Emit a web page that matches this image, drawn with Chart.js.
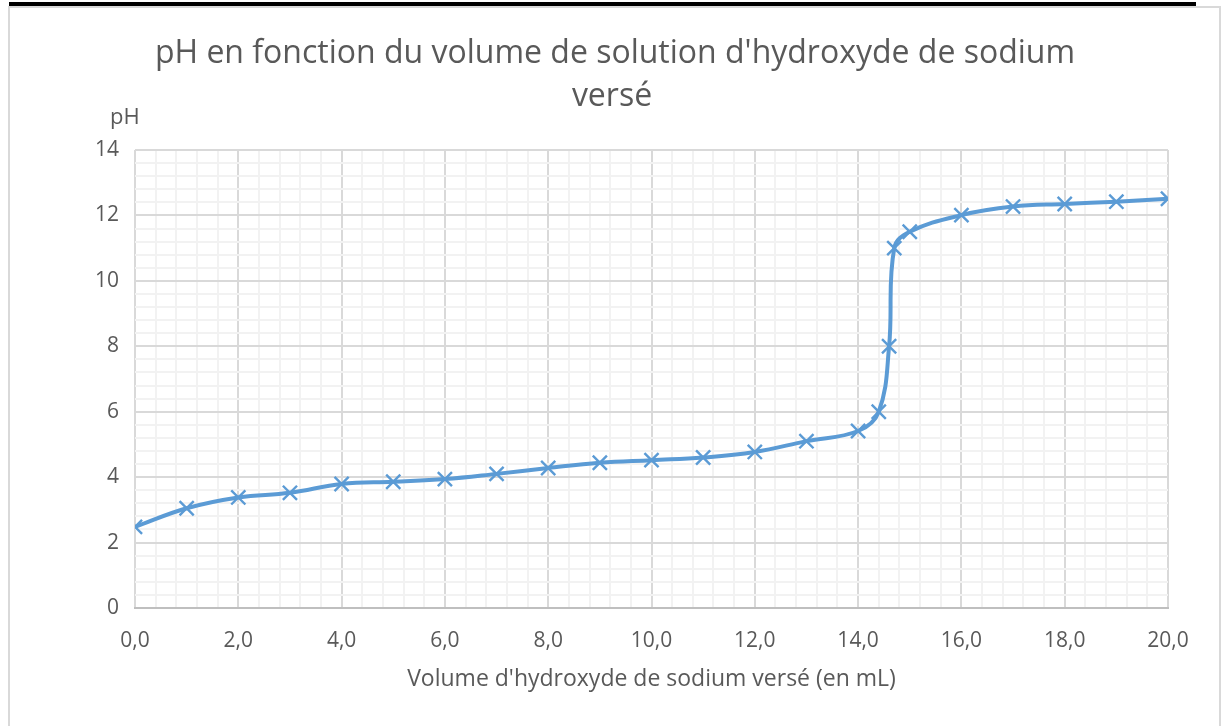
<!DOCTYPE html>
<html>
<head>
<meta charset="utf-8">
<script src="https://cdn.jsdelivr.net/npm/chart.js@4.4.1/dist/chart.umd.min.js"></script>
<style>
    body { margin: 0; background: #fff; width: 1230px; height: 726px; overflow: hidden; position: relative; }
    #bar { position: absolute; left: 9px; top: 2px; width: 1187px; height: 4px; background: #000; }
    #frame { position: absolute; left: 8px; top: 6px; width: 1209px; height: 740px; border: 2px solid #d9d9d9; border-bottom: none; }
    #wrap { position: absolute; left: 10px; top: 8px; width: 1185px; height: 718px; }
</style>
</head>
<body>
<div id="bar"></div>
<div id="frame"></div>
<div id="wrap"><canvas id="myChart" width="1185" height="718"></canvas></div>
<script>
const volumes = [0, 1, 2, 3, 4, 5, 6, 7, 8, 9, 10, 11, 12, 13, 14, 14.4, 14.6, 14.7, 15, 16, 17, 18, 19, 20];
const phValues = [2.48, 3.05, 3.38, 3.52, 3.79, 3.86, 3.94, 4.1, 4.28, 4.44, 4.52, 4.6, 4.77, 5.1, 5.41, 6.0, 8.0, 11.0, 11.5, 12.01, 12.27, 12.35, 12.42, 12.51];
const titleLines = ["pH en fonction du volume de solution d'hydroxyde de sodium", "versé"];
const xTitle = "Volume d'hydroxyde de sodium versé (en mL)";
const yTitle = "pH";

const font = "'Open Sans', sans-serif";
const textColor = '#595959';

function isMajor(v) {
    return Math.abs(v / 2 - Math.round(v / 2)) < 1e-6;
}

// title and the "pH" unit label sit at fixed spots above the plot
const labelsPlugin = {
    id: 'labels',
    afterDraw(chart) {
        const c = chart.ctx;
        c.save();
        c.fillStyle = textColor;
        c.textAlign = 'center';
        c.textBaseline = 'middle';
        c.font = "32px " + font;
        c.fillText(titleLines[0], 605, 46);
        c.fillText(titleLines[1], 602, 89);
        c.font = "22px " + font;
        c.textAlign = 'left';
        c.fillText(yTitle, 100, 110);
        c.restore();
    }
};

let chart = new Chart(document.getElementById('myChart'), {
    type: 'scatter',
    data: {
        datasets: [
            {
                data: volumes.map((v, i) => ({x: v, y: phValues[i]})),
                showLine: true,
                borderColor: '#5B9BD5',
                borderWidth: 4,
                tension: 0.4,
                pointStyle: 'crossRot',
                pointRadius: 10,
                pointBorderWidth: 2.4,
                pointBorderColor: '#5B9BD5',
                pointBackgroundColor: '#5B9BD5'
            }
        ]
    },
    options: {
        responsive: false,
        animation: false,
        layout: {
            padding: {top: 142, right: 27, left: 0, bottom: 29}
        },
        plugins: {
            legend: {display: false},
            tooltip: {enabled: false}
        },
        scales: {
            x: {
                type: 'linear',
                min: 0,
                max: 20,
                afterFit: (scale) => {
                    scale.height = 89;
                    scale.paddingLeft = 0;
                    scale.paddingRight = 0;
                },
                ticks: {
                    stepSize: 0.4,
                    autoSkip: false,
                    maxRotation: 0,
                    padding: 20,
                    color: textColor,
                    font: {family: font, size: 21},
                    callback: (v) => isMajor(v) ? v.toFixed(1).replace('.', ',') : ''
                },
                grid: {
                    color: (ctx) => isMajor(ctx.tick.value) ? '#d9d9d9' : '#f2f2f2',
                    lineWidth: 2,
                    drawTicks: false
                },
                border: {color: '#bfbfbf', width: 2},
                title: {
                    display: true,
                    text: xTitle,
                    color: textColor,
                    font: {family: font, size: 23}
                }
            },
            y: {
                min: 0,
                max: 14,
                afterFit: (scale) => { scale.width = 125; },
                ticks: {
                    stepSize: 0.4,
                    autoSkip: false,
                    padding: 16,
                    color: textColor,
                    font: {family: font, size: 21},
                    callback: (v) => isMajor(v) ? String(Math.round(v)) : ''
                },
                grid: {
                    color: (ctx) => isMajor(ctx.tick.value) ? '#d9d9d9' : '#f2f2f2',
                    lineWidth: 2,
                    drawTicks: false
                },
                border: {display: false}
            }
        }
    },
    plugins: [labelsPlugin]
});
</script>
</body>
</html>
